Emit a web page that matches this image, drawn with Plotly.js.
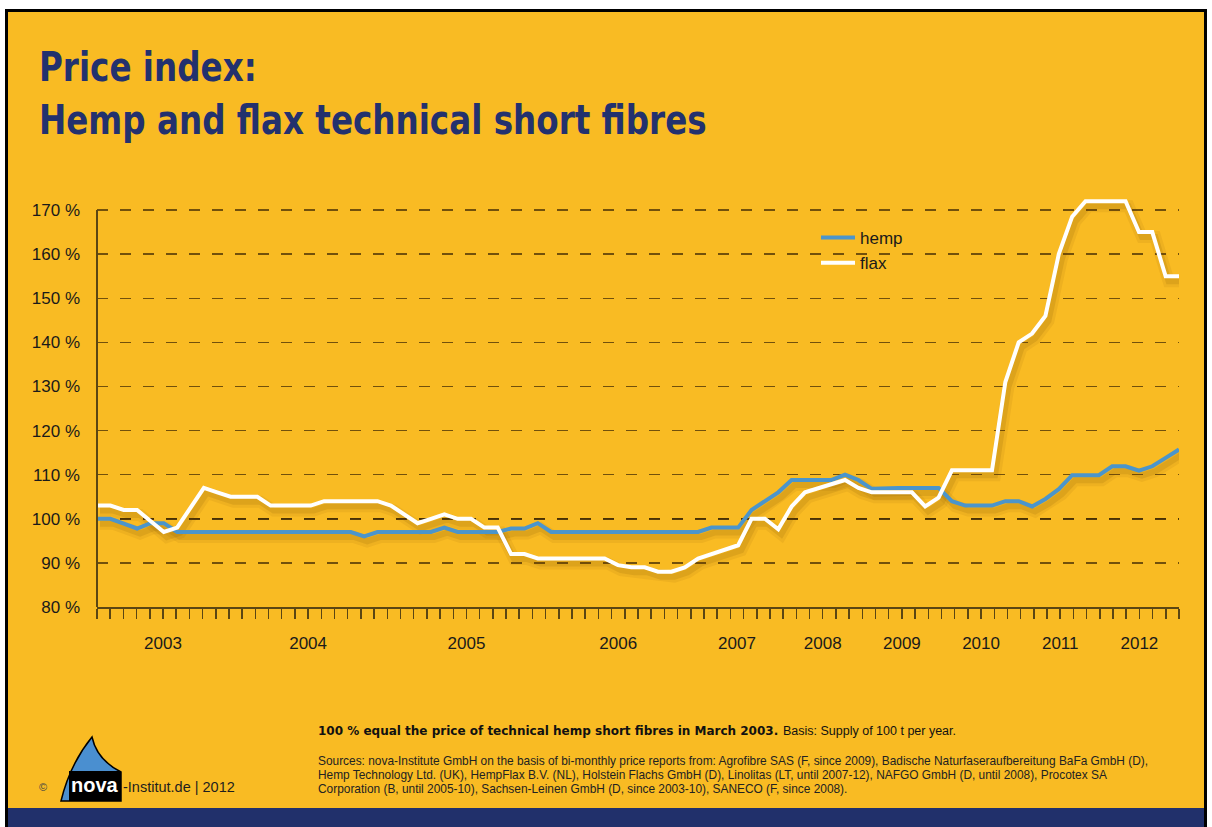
<!DOCTYPE html>
<html>
<head>
<meta charset="utf-8">
<script src="https://cdn.plot.ly/plotly-3.0.1.min.js"></script>
<style>
html,body{margin:0;padding:0;background:#ffffff;overflow:hidden;}
#chart{width:1212px;height:827px;}
</style>
</head>
<body>
<div id="chart"></div>
<script>
// ---------------- data ----------------
const seriesNames = ['hemp', 'flax'];
const years = ['2003', '2004', '2005', '2006', '2007', '2008', '2009', '2010', '2011', '2012'];
// tick number (of the 83 equally spaced axis ticks) where each year starts / ends
const yearStartTick = [0, 10, 22, 34, 45, 52, 58, 64, 70, 76, 82];
const tickCount = 83;
const yTickValues = [80, 90, 100, 110, 120, 130, 140, 150, 160, 170];

// price index in % (100 % = technical hemp short fibres, March 2003)
const hemp = [
  100, 100, 98.9, 97.8, 99, 99, 97, 97, 97, 97,
  97, 97, 97, 97, 97, 97, 97, 97, 97, 97,
  96, 97, 97, 97, 97, 97, 98, 97, 97, 97,
  97, 97.8, 97.8, 99, 97, 97, 97, 97, 97, 97,
  97, 97, 97, 97, 97, 97, 98, 98, 98, 102,
  104, 106, 108.8, 108.8, 108.8, 108.8, 110, 108.8, 106.8, 107,
  107, 107, 107, 107, 104, 103, 103, 103, 104, 104,
  102.8, 104.5, 106.7, 109.9, 109.9, 109.9, 111.9, 111.9, 110.9, 111.9,
  113.8, 115.7
];
const flax = [
  103, 103, 102, 102, 99.5, 97, 98, 102.5, 107, 106,
  105, 105, 105, 103, 103, 103, 103, 104, 104, 104,
  104, 104, 103, 101, 99, 100, 101, 100, 100, 98,
  98, 92, 92, 91, 91, 91, 91, 91, 91, 89.5,
  89, 89, 88, 88, 89, 91, 92, 93, 94, 100,
  100, 97.6, 102.8, 106, 107, 108, 108.8, 107, 106, 106,
  106, 106, 102.8, 104.8, 111, 111, 111, 111, 131, 140,
  142, 146, 160, 168.5, 172, 172, 172, 172, 165, 165,
  155, 155
];

const sourceLines = [
  'Sources: nova-Institute GmbH on the basis of bi-monthly price reports from: Agrofibre SAS (F, since 2009), Badische Naturfaseraufbereitung BaFa GmbH (D),',
  'Hemp Technology Ltd. (UK), HempFlax B.V. (NL), Holstein Flachs GmbH (D), Linolitas (LT, until 2007-12), NAFGO GmbH (D, until 2008), Procotex SA',
  'Corporation (B, until 2005-10), Sachsen-Leinen GmbH (D, since 2003-10), SANECO (F, since 2008).'
];

// ---------------- styling / layout helpers ----------------
const W = 1212, H = 827;
const ML = 97, MR = 33, MT = 188, MB = 220;
const PW = W - ML - MR, PH = H - MT - MB;
const X = p => (p - ML) / PW;           // pixel x -> paper
const Y = p => (H - MB - p) / PH;       // pixel y -> paper

const ORANGE = 'rgb(249,187,35)';
const NAVY = '#23316e';
const BLUE = '#4b95cb';
const AXIS = '#5b4613';
const GRID = 'rgba(75,50,5,0.78)';
const FONT = "'Liberation Sans', Arial, sans-serif";
const TFONT = "'DejaVu Sans Condensed', 'Liberation Sans', sans-serif";

const xMax = hemp.length - 1;
const idx = hemp.map((_, i) => i);
const tickScale = xMax / (tickCount - 1);
const minorVals = Array.from({length: tickCount}, (_, t) => t * tickScale);
const majorVals = yearStartTick.slice(1, -1).map(t => t * tickScale);
const yearMid = years.map((_, i) => (yearStartTick[i] + yearStartTick[i + 1]) / 2 * tickScale);

const yRange = [80, 175];
const shDx = 3, shDy = 5; // shadow offset in px
const xShift = shDx * xMax / PW;
const yShift = shDy * (yRange[1] - yRange[0]) / PH;

function rect(x0, y0, x1, y1, fill, layer) {
  return {type: 'rect', xref: 'paper', yref: 'paper', layer: layer || 'below',
    x0: X(x0), x1: X(x1), y0: Y(y1), y1: Y(y0), fillcolor: fill, line: {width: 0}};
}
function pth(cmds) {
  return cmds.map(c => c[0] + ' ' + c.slice(1).map((v, k) => k % 2 === 0 ? X(v) : Y(v)).join(',')).join(' ');
}
function note(px, py, text, font, anchor) {
  return {xref: 'paper', yref: 'paper', x: X(px), y: Y(py), xanchor: anchor || 'left', yanchor: 'middle',
    showarrow: false, text: text, font: font, borderpad: 0};
}

const shapes = [
  rect(8, 12, 1204, 808, ORANGE),
  rect(8, 808, 1204, 827, '#21306b'),
  rect(5, 9, 8, 827, '#000000'),
  rect(5, 9, 1207, 12, '#000000'),
  rect(1204, 9, 1207, 827, '#000000'),
  // y axis line (80 % .. 170 %)
  {type: 'line', xref: 'paper', yref: 'y', x0: 0, x1: 0, y0: 80, y1: 170,
   line: {color: AXIS, width: 2}, layer: 'above'},
  // 100 % reference line
  {type: 'line', xref: 'paper', yref: 'y', x0: 0, x1: 1, y0: 100, y1: 100,
   line: {color: '#000000', width: 1.2, dash: '11px,12px'}, layer: 'between'},
  // nova logo: sail + black plate
  {type: 'path', xref: 'paper', yref: 'paper', layer: 'above',
   path: pth([['M', 61, 801], ['Q', 70, 764, 92, 737], ['Q', 97, 760, 121, 772], ['L', 121, 801]]) + ' Z',
   fillcolor: '#4a8fd0', line: {color: '#000000', width: 1.5}},
  rect(69, 771, 121, 801, '#000000', 'above')
];

const annotations = [
  note(95, 785, '<b>nova</b>', {family: FONT, size: 20, color: '#ffffff'}, 'center'),
  note(38, 787, '©', {family: FONT, size: 11, color: '#444444'}),
  note(122, 787, '-Institut.de | 2012', {family: FONT, size: 14.5, color: '#1e1e1e'}),
  note(317, 731, '<b>100 % equal the price of technical hemp short fibres in March 2003.</b>',
       {family: "'DejaVu Sans', 'Liberation Sans', sans-serif", size: 12, color: '#111111'}),
  note(782, 731, 'Basis: Supply of 100 t per year.', {family: FONT, size: 12.5, color: '#111111'}),
  note(317, 761, sourceLines[0], {family: FONT, size: 11.9, color: '#222222'}),
  note(317, 775, sourceLines[1], {family: FONT, size: 11.9, color: '#222222'}),
  note(317, 788.5, sourceLines[2], {family: FONT, size: 11.9, color: '#222222'})
];

const traces = [
  {x: [], y: [], type: 'scatter', mode: 'lines', showlegend: false, hoverinfo: 'skip'},
  // soft shadows
  {x: idx, y: hemp, xaxis: 'x2', yaxis: 'y2', type: 'scatter', mode: 'lines', showlegend: false, hoverinfo: 'skip',
   line: {color: 'rgba(110,70,0,0.08)', width: 12}},
  {x: idx, y: flax, xaxis: 'x2', yaxis: 'y2', type: 'scatter', mode: 'lines', showlegend: false, hoverinfo: 'skip',
   line: {color: 'rgba(110,70,0,0.08)', width: 12}},
  {x: idx, y: hemp, xaxis: 'x2', yaxis: 'y2', type: 'scatter', mode: 'lines', showlegend: false, hoverinfo: 'skip',
   line: {color: 'rgba(110,70,0,0.13)', width: 6}},
  {x: idx, y: flax, xaxis: 'x2', yaxis: 'y2', type: 'scatter', mode: 'lines', showlegend: false, hoverinfo: 'skip',
   line: {color: 'rgba(110,70,0,0.13)', width: 6}},
  // series
  {x: idx, y: hemp, xaxis: 'x3', yaxis: 'y3', type: 'scatter', mode: 'lines', name: seriesNames[0],
   line: {color: BLUE, width: 4}},
  {x: idx, y: flax, xaxis: 'x3', yaxis: 'y3', type: 'scatter', mode: 'lines', name: seriesNames[1],
   line: {color: '#ffffff', width: 4}}
];

const layout = {
  width: W, height: H,
  margin: {l: ML, r: MR, t: MT, b: MB, pad: 0},
  paper_bgcolor: '#ffffff',
  plot_bgcolor: 'rgba(0,0,0,0)',
  title: {
    text: 'Price index:<br>Hemp and flax technical short fibres',
    xref: 'container', yref: 'container',
    x: 39 / W, xanchor: 'left',
    y: 1 - 81 / H, yanchor: 'top',
    font: {family: TFONT, size: 41, color: NAVY, weight: 700}
  },
  showlegend: true,
  legend: {
    x: X(816), y: Y(220), xanchor: 'left', yanchor: 'top',
    bgcolor: 'rgba(0,0,0,0)', borderwidth: 0,
    font: {family: FONT, size: 17, color: '#1a1a1a'},
    traceorder: 'normal', itemwidth: 34
  },
  xaxis: {
    range: [0, xMax], showgrid: false, zeroline: false,
    showline: true, linecolor: AXIS, linewidth: 2,
    tickmode: 'array', tickvals: majorVals, ticktext: majorVals.map(() => ''),
    showticklabels: false,
    ticks: 'outside', ticklen: 24, tickwidth: 1.5, tickcolor: AXIS,
    minor: {tickvals: minorVals, ticks: 'outside', ticklen: 10, tickwidth: 1.5, tickcolor: AXIS, showgrid: false}
  },
  yaxis: {
    range: yRange, showline: false, zeroline: false,
    tickmode: 'array', tickvals: yTickValues, ticktext: yTickValues.map(v => v + ' %'),
    ticks: '', ticklabelstandoff: 16,
    tickfont: {family: FONT, size: 17, color: '#1a1a1a'},
    showgrid: true, gridcolor: GRID, gridwidth: 1.5, griddash: '11px,12px'
  },
  xaxis2: {overlaying: 'x', anchor: 'y2', range: [-xShift, xMax - xShift], visible: false},
  yaxis2: {overlaying: 'y', anchor: 'x2', range: [yRange[0] + yShift, yRange[1] + yShift], visible: false},
  xaxis3: {
    overlaying: 'x', anchor: 'y3', range: [0, xMax],
    showline: false, showgrid: false, zeroline: false,
    tickmode: 'array', tickvals: yearMid, ticktext: years,
    ticks: '', ticklabelstandoff: 24,
    tickfont: {family: FONT, size: 17, color: '#1a1a1a'}
  },
  yaxis3: {overlaying: 'y', anchor: 'x3', range: yRange, visible: false},
  shapes: shapes,
  annotations: annotations
};

// condense the heavy title (the original uses a condensed black face)
function condenseTitle(gd) {
  const t = gd.querySelector('.gtitle');
  if (!t) return;
  const x0 = parseFloat(t.getAttribute('x')) || 0;
  const target = 668;
  const w = t.getBBox().width;
  const s = w > 0 ? Math.min(1, target / w) : 1;
  t.setAttribute('transform', 'translate(' + x0 + ',0) scale(' + s + ',1) translate(' + (-x0) + ',0)');
}

Plotly.newPlot('chart', traces, layout, {displayModeBar: false, staticPlot: true}).then(condenseTitle);
</script>
</body>
</html>
